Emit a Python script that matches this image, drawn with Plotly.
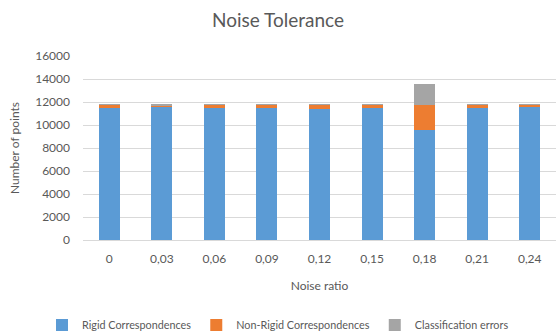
import plotly.graph_objects as go

categories = ["0", "0,03", "0,06", "0,09", "0,12", "0,15", "0,18", "0,21", "0,24"]
rigid = [11500, 11600, 11500, 11500, 11400, 11500, 9600, 11500, 11600]
non_rigid = [250, 120, 270, 270, 380, 250, 2100, 250, 150]
class_errors = [40, 80, 40, 40, 20, 50, 1900, 50, 50]

font_family = "Lato, Open Sans, sans-serif"
grey_text = "#595959"

fig = go.Figure()
fig.add_trace(go.Bar(name="Rigid Correspondences", x=categories, y=rigid,
                     marker=dict(color="#5b9bd5", line=dict(width=0))))
fig.add_trace(go.Bar(name="Non-Rigid Correspondences", x=categories, y=non_rigid,
                     marker=dict(color="#ed7d31", line=dict(width=0))))
fig.add_trace(go.Bar(name="Classification errors", x=categories, y=class_errors,
                     marker=dict(color="#a5a5a5", line=dict(width=0))))

fig.update_layout(
    barmode="stack",
    bargap=0.6,
    width=556, height=334,
    margin=dict(l=83, r=0, t=56, b=94),
    paper_bgcolor="white", plot_bgcolor="white",
    font=dict(family=font_family, color=grey_text, size=12),
    title=dict(text="Noise Tolerance", x=0.5, xref="container", xanchor="center",
               y=0.94, yref="container", yanchor="middle",
               font=dict(size=19, color=grey_text, family=font_family)),
    legend=dict(orientation="h", x=0.5, xanchor="center", xref="container",
                y=0.027, yref="container", yanchor="middle",
                font=dict(size=10.8, color=grey_text), itemwidth=30,
                traceorder="normal"),
    xaxis=dict(title=dict(text="Noise ratio", font=dict(size=12, color=grey_text), standoff=16),
               showgrid=False, showline=True, linecolor="#d9d9d9", linewidth=1,
               ticks="", ticklabelstandoff=8, tickfont=dict(size=12, color=grey_text)),
    yaxis=dict(title=dict(text="Number of points", font=dict(size=12, color=grey_text), standoff=12),
               range=[0, 16000], dtick=2000, showgrid=True, gridcolor="#d9d9d9",
               gridwidth=1, zeroline=False, ticks="", tickformat="d",
               ticklabelstandoff=12, tickfont=dict(size=12, color=grey_text)),
)

fig.write_html("out.html", config={"displayModeBar": False},
               post_script="document.body.style.margin='0';")
